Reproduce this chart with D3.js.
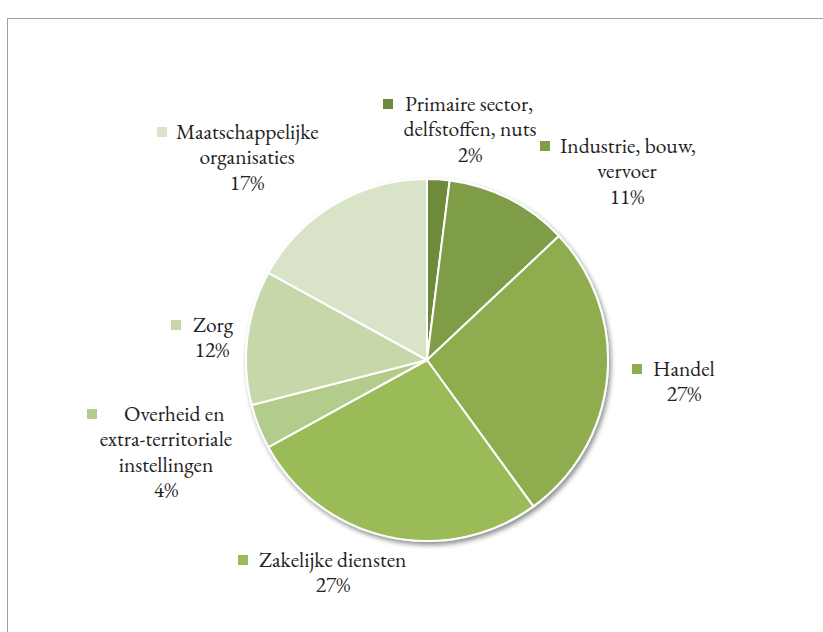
<!DOCTYPE html>
<html>
<head>
<meta charset="utf-8">
<script src="https://cdn.jsdelivr.net/npm/d3@7"></script>
<style>
  html, body { margin: 0; padding: 0; background: #fff; }
  svg { display: block; }
</style>
</head>
<body>
<svg id="chart" width="823" height="632"></svg>
<script>
// ---- data ----
const categories = [
  "Primaire sector, delfstoffen, nuts",
  "Industrie, bouw, vervoer",
  "Handel",
  "Zakelijke diensten",
  "Overheid en extra-territoriale instellingen",
  "Zorg",
  "Maatschappelijke organisaties"
];
const values = [2, 11, 27, 27, 4, 12, 17];
const valueLabels = ["2%", "11%", "27%", "27%", "4%", "12%", "17%"];
const labelLines = [
  ["Primaire sector,", "delfstoffen, nuts"],
  ["Industrie, bouw,", "vervoer"],
  ["Handel"],
  ["Zakelijke diensten"],
  ["Overheid en", "extra-territoriale", "instellingen"],
  ["Zorg"],
  ["Maatschappelijke", "organisaties"]
];
const colors = ["#6e8a3a", "#7f9c47", "#8fad4f", "#9bbb59", "#b3cb8b", "#c6d7aa", "#d9e3c8"];

// ---- layout (positions only) ----
const cx = 427, cy = 360, radius = 181;
const labelPos = [
  { x: 470, y: 104, sq: 383, first: 405 },
  { x: 627, y: 146, sq: 540, first: 560 },
  { x: 684, y: 369, sq: 632, first: 653 },
  { x: 333, y: 560, sq: 238, first: 259 },
  { x: 166, y: 414, sq: 87, first: 124 },
  { x: 212, y: 325, sq: 171, first: 193 },
  { x: 247, y: 132, sq: 157, first: 176 }
];
const lineH = 25.5;
const FONT = "'EB Garamond', 'Liberation Serif', serif";

const svg = d3.select("#chart");

svg.append("rect")
  .attr("x", 7.5).attr("y", 18.5)
  .attr("width", 840).attr("height", 640)
  .attr("fill", "none").attr("stroke", "#a0a0a0").attr("stroke-width", 1);

const defs = svg.append("defs");
const f = defs.append("filter").attr("id", "shadow")
  .attr("x", "-10%").attr("y", "-10%").attr("width", "130%").attr("height", "130%");
f.append("feGaussianBlur").attr("in", "SourceAlpha").attr("stdDeviation", 2.5).attr("result", "b");
f.append("feOffset").attr("in", "b").attr("dx", 2).attr("dy", 3).attr("result", "o");
f.append("feComponentTransfer").attr("in", "o").attr("result", "s")
  .append("feFuncA").attr("type", "linear").attr("slope", 0.45);
const m = f.append("feMerge");
m.append("feMergeNode").attr("in", "s");
m.append("feMergeNode").attr("in", "SourceGraphic");

const pie = d3.pie().sort(null).value(d => d)(values);
const arc = d3.arc().innerRadius(0).outerRadius(radius);

const g = svg.append("g").attr("transform", `translate(${cx},${cy})`)
  .attr("filter", "url(#shadow)");
g.selectAll("path").data(pie).join("path")
  .attr("d", arc)
  .attr("fill", (d, i) => colors[i])
  .attr("stroke", "#fff")
  .attr("stroke-width", 2)
  .attr("stroke-linejoin", "round");

const fs = 21.5;
categories.forEach((c, i) => {
  const p = labelPos[i];
  const lines = labelLines[i].concat([valueLabels[i]]);
  const lg = svg.append("g");
  lines.forEach((ln, j) => {
    lg.append("text")
      .attr("x", j === 0 ? p.first : p.x)
      .attr("y", p.y + j * lineH)
      .attr("dy", "0.32em")
      .attr("text-anchor", j === 0 ? "start" : "middle")
      .attr("font-family", FONT)
      .attr("font-size", fs)
      .attr("fill", "#222")
      .text(ln);
  });
  lg.append("rect")
    .attr("x", p.sq).attr("y", p.y - 5)
    .attr("width", 10).attr("height", 10)
    .attr("fill", colors[i]);
});
</script>
</body>
</html>
